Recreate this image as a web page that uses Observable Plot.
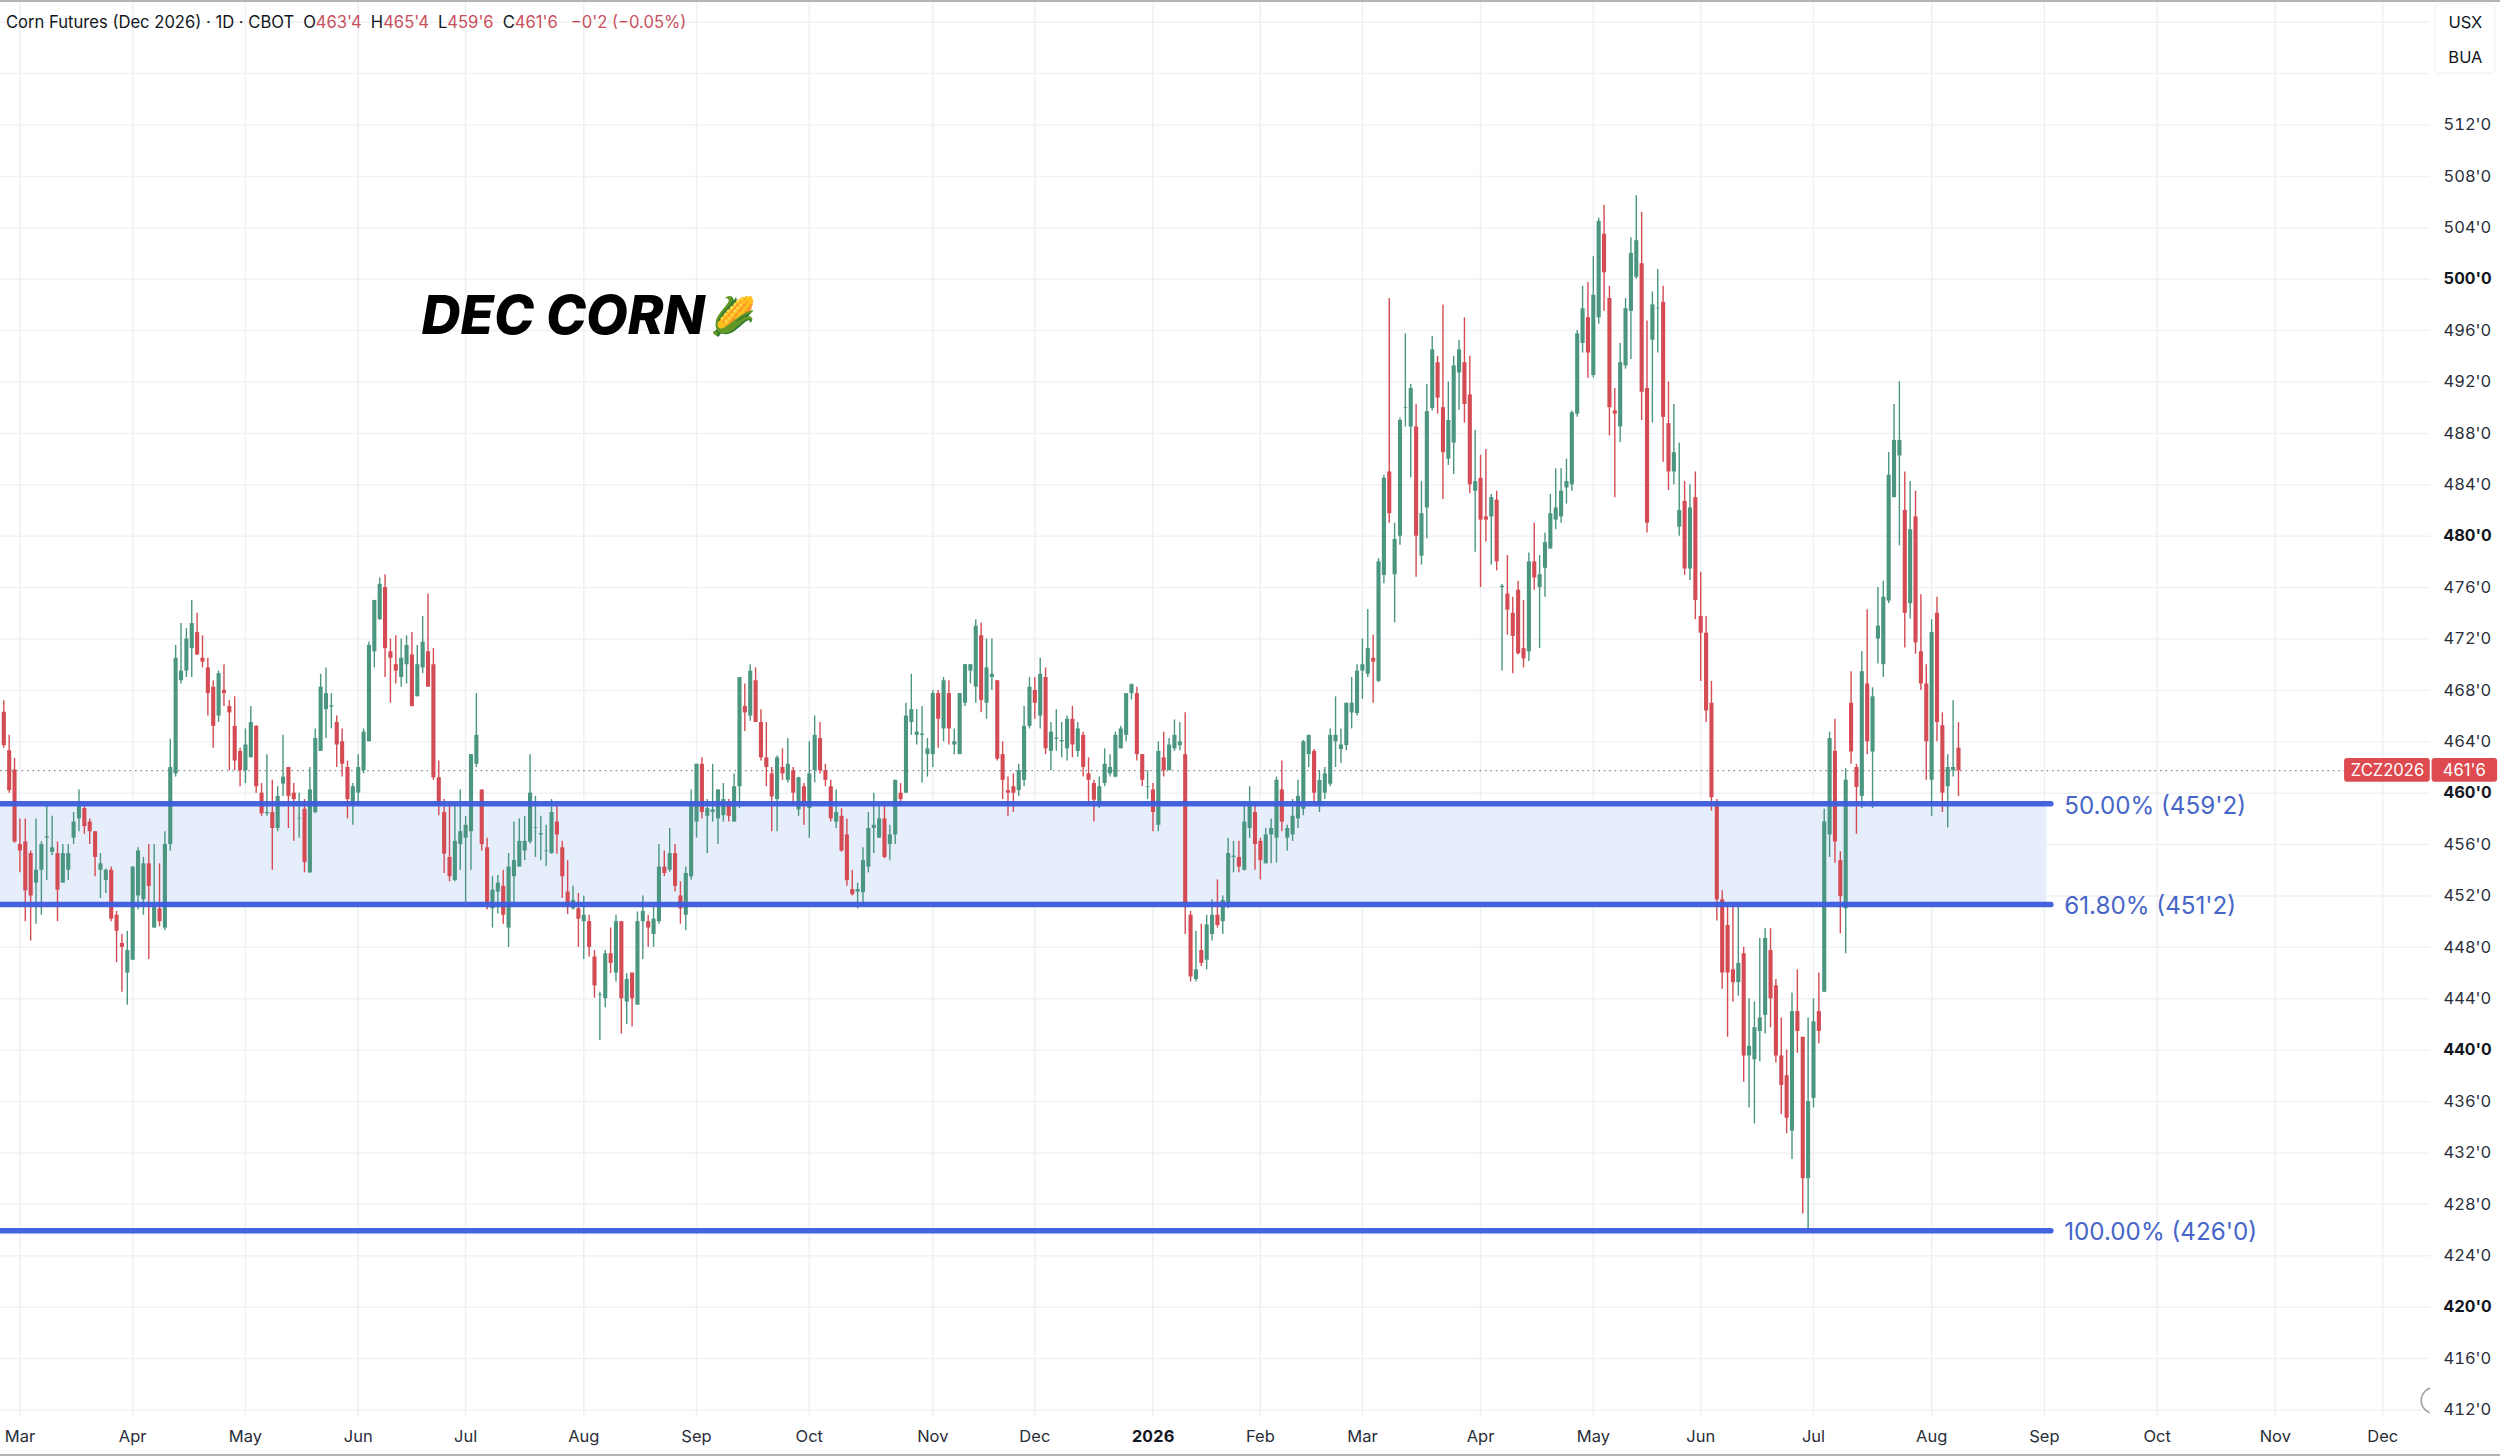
<!DOCTYPE html>
<html>
<head>
<meta charset="utf-8">
<script src="https://cdn.jsdelivr.net/npm/d3@7"></script>
<script src="https://cdn.jsdelivr.net/npm/@observablehq/plot@0.6"></script>
<style>
html,body{margin:0;padding:0;background:#fff;}
#wrap{position:relative;width:2500px;height:1456px;overflow:hidden;font-family:Inter,sans-serif;}
#legend{position:absolute;left:6px;top:12px;font-size:16.6px;line-height:20px;color:#131722;white-space:pre;}
#legend .v{color:#c8505c;}
#legend .k{margin-left:9px;}
#legend .c{margin-left:13px;}
#topline,#botline{position:absolute;left:0;width:2500px;height:2px;background:#b4b4b4;}
#topline{top:0;}#botline{bottom:0;}
</style>
</head>
<body>
<div id="wrap"></div>
<script>
const highs=[467.2,464.5,462.7,458,458,455.5,458,456.2,459,458.2,
456.2,456,456,458.5,460.25,459,458,457,455.3,454.1,
454.25,450.8,449,449.25,454.25,455.75,455,456,456,454.5,
457,464.2,471.5,473.2,472.8,475,474,472.25,470.5,468.75,
469.5,470,467.2,467.5,463.5,465,466.75,465.25,460.75,463,
461,460.5,464.5,462,460.75,460,459.5,462,465,469.25,
469.75,467.75,466,465,462.5,460.75,463,465,471.75,475,
476.75,477,472,472.25,472,472.25,472.5,471.5,473.75,475.5,
471.25,462.5,459.5,459.3,459.2,460.25,458.2,463,467.75,460.25,
456.5,453.5,453.6,454,455.3,457.75,458,458.2,463,459.75,
458.2,457.5,459.5,459,456.25,454.75,452.75,452.2,452,450.5,
447.75,444.5,447.75,449.5,450.5,450,445.95,446,450.75,452,
450.5,451.1,456,455.5,457.25,456,453.1,454.25,460.25,462.25,
462.75,459.5,462.25,460.25,460.75,459.5,461.5,469,468.5,470,
469.75,466.5,465.5,462,462.9,463.45,464.25,462,461.25,460.75,
464,466,465.5,462.25,461,460.25,458.8,458,454,453,
455.75,458.5,460,459.2,459.3,457.5,461,460.75,467,469.25,
466.5,466.75,464.25,468,468,469,468.75,465,467.75,470,
470,473.5,473.25,472,472,468.75,464,461.25,461.5,462.25,
466.75,469,469,470.5,469.75,465.5,466.5,465.5,466,466.75,
465.5,464.75,462.75,461,461.25,463.45,463,464.75,465.2,467.75,
468.5,468.25,463,461.75,460.75,464,464.75,464.25,465.7,465.5,
466.25,450.8,449.25,449.8,450.5,451.7,453.25,452,456.5,456.25,
456.25,459.3,460.5,459.2,456.5,457.25,458,461.25,462.5,457.5,
459.5,461,464.1,464.5,463.4,461.75,462,465,467.5,465,
467,469,470,472,474.3,472.3,478.25,484.75,498.5,481,
489.2,495.75,491.8,490.25,484.25,491.8,495.55,494,498,492,
494,495.25,497,494,488.25,486.3,486.75,483.25,483.5,476.25,
478.5,475.25,476.5,475,478.7,481,478.5,480.25,483.25,485.25,
485.25,486,489.75,496,499.45,499.75,501.75,504.75,505.75,499.45,
491.5,495,498.5,503.2,506.5,505.2,496.75,499,500.75,499.45,
492,490.25,487.25,484.25,484,485,477.2,473.75,468.7,459.5,
452.4,451.45,451.45,451.45,448,444,443.75,448.7,449.45,449.45,
445.5,442.5,440,444.45,446.25,441,442.5,444,446,458.75,
464.75,465.75,455.45,461.9,469.45,462.25,471,474.27,468.2,476,
476.5,486.5,490.25,492,485,484.25,483.5,475.45,470,473.5,
475.25,466.25,463,467.2,465.5];
const lows=[463.5,460,456.1,453.8,450,448.5,449.8,450.5,453.2,455.15,
450,453,453.2,456,457,456.8,456,453.5,451.8,452.2,
450,446.8,444.5,443.5,447,450.9,450.5,447.05,449.5,449.6,
449.3,455.5,461.25,468.5,469,469,470.75,469.75,466,463.5,
465.5,466.75,461.75,461.75,460.5,460.75,462.75,460,458.2,458.2,
454,457,459.75,457.25,456.25,456.5,453.8,453.75,458.4,463.25,
464.25,465,462,461.25,458,457.5,459,461.5,464,469.75,
473.45,469,467,468.5,468.25,468.5,466.7,467.5,469.3,468.25,
461,458.25,453.75,453.1,453.1,454,451.5,454,462,455.5,
450.9,449.5,450.6,449.8,448,451.4,454.25,454.75,456.05,455,
454.75,454.3,455.25,455.25,451.8,450.55,450.9,448,447.05,447.25,
444.05,440.75,443.3,445.95,445.3,441.25,442,441.8,443.5,447.05,
448,448,449.8,453.5,453.85,452.3,449.8,449.3,453.25,456.5,
458,455.3,457.75,456,457.75,457.75,457.75,458.8,464.8,465.6,
465.5,462.5,460.5,457,457,461,460.8,459,458.2,457.5,
456.5,460.8,461.5,460.5,457.75,457.25,455.4,452.75,452,451,
451.25,453.8,455.3,456.5,454.9,454.75,456,459,460,464.5,
463.75,460.8,461.25,462,463.5,464,463.75,463,463,466.75,
468.5,467,466.25,465.75,468,462.5,459.5,458.2,458.5,459.75,
460.5,465,465.75,465,463,461.75,463.25,462.75,462.5,462.75,
462.8,461.25,459,457.75,458.8,460.5,461.25,461.2,463.45,464,
467.25,462.5,460.5,459.5,457,457,461.25,461.75,463.25,463.3,
449,445.3,445.3,446.5,446.25,448.5,449.5,449,451,453.8,
453.8,453.95,456.5,454,453.25,454.5,454.5,454.55,457,455.5,
456.25,457.25,458.25,462,459,458.5,459.5,460.5,462,462.3,
463.3,465,466,467.3,469,467,468.6,476.3,481,473.25,
479.3,488.5,484.55,476.8,477.75,479.8,489.75,489.5,482.85,485.5,
484.8,489.8,488.8,483.3,478.75,476,479.55,477.75,477.3,469.5,
472.3,469.3,470.75,469.75,470.25,475.8,471.25,475.25,479,480.5,
481,482.5,483.5,489.25,494.25,492.3,492.3,496.5,497.5,487.8,
483,487.3,493,493.75,500,489,480.25,488.8,494.25,485.75,
483.55,484,480,476.95,476.55,473.5,468.7,465.5,458.6,450.05,
444.75,441,443.75,444.2,437.5,435.5,434.25,439.1,441.25,441.75,
439,435,433.5,431.5,439.75,427.25,426,435.5,440.5,444.5,
455,454.55,449.05,447.5,462.25,456.8,458.8,463,458.8,470.05,
469,474.75,483,479.25,471.3,473.55,470.8,468,461,458.2,
464,458.5,457.3,461.25,459.75];
const opens=[466.3,463.3,461.8,456,456.2,455.3,453,454,456.5,455.4,
455.3,453,454,456.5,458,458.8,457.75,457,454,453.2,
454,450.5,448.3,446,447,452,451.7,454.5,449.5,451,
449.5,456,461.5,468.75,469.5,471.25,472.5,470.5,469.75,468.25,
466,468,466.75,465.2,463.25,461.75,462.75,465.2,460,458.4,
458.5,457.25,460.7,462,460,458,458.75,453.8,458.5,463.25,
466.5,466.7,465.5,464,462,459,460,461.75,464,471,
473.5,476,471,470,469,470,470.75,467.5,469.75,471,
470,461.2,458.5,455,453.2,456,456.5,457,462.25,460.25,
455.75,451,452.3,452.75,449.5,453.5,454.25,455.5,456.2,457.25,
456.75,455.45,455.3,457.75,455.75,452.3,451,451,450,450,
447.25,444.25,444,447.5,446,450,443.75,446,443.5,450,
450,449,450,454.25,454,455.3,452,450.5,453.5,457.75,
462.25,458.2,458.5,458,458.25,459.3,457.75,460.5,466.75,466,
468.75,465.5,462.75,461.5,459.5,462,461,461.75,458.7,460.5,
458.8,461.75,464.25,461.75,460.5,457.75,458.2,456.75,452.5,452.3,
452.25,454.25,457.25,456.5,458,456,456.75,460,460,465.5,
464.5,464.5,463,463,467.75,465,467.75,463.75,463,467,
469.5,468.25,472.25,467,469,468.75,463,460.2,460.5,460.2,
461,465.2,468,466,469,463.25,464.2,464,463.45,465.75,
463.25,464.5,461.5,460.75,459.2,460.75,461.5,461.25,463.45,464.5,
467.75,467.75,463,460.45,460.25,457.5,462.75,461.75,463.45,463.7,
463,450.5,445.5,447.75,447,449,450.5,450,451.4,455,
455,454,457.25,458.5,456.25,454.5,456.75,456.5,460.25,456.5,
456.75,458,458.75,463,463.25,459,460,460.7,464,463.4,
463.7,466.25,466.2,469.5,469.25,470.5,468.7,476.95,485,477,
480,489.95,488.5,488.5,478.45,482.2,489.95,493.5,490,486,
487.25,492.7,493.5,491,483.5,484.5,481.5,481.5,482.8,476,
475.5,474,475.8,471.25,471,478,476,477.5,479,481.25,
481.5,483.75,484,489.5,495,497,492.5,497,503.5,498.5,
489.75,488.5,493.25,497.5,500.15,501.2,491.5,495.25,497.7,498.2,
488.75,485,480.7,482.7,477.45,483,473.75,472.45,467,459.2,
451.7,449.7,446.25,445.25,447.5,439.55,439.25,441.45,442.7,447.75,
445,439.55,438,433.7,443,441,430,436.25,443,444.5,
456.75,463.25,454.75,451,467,462,459.75,468.5,463.2,472,
470,474.95,483,486.25,482,474.75,481.5,471,468.5,461,
474,465.25,460.5,461.75,463.5];
const closes=[463.7,460.2,456.2,455.5,452.4,452,454,456,456.6,455.75,
452.45,455.3,455.3,457.75,459,457.4,457,455,454.5,454,
450.2,449.25,448,447.75,454.25,455.5,454.5,452.75,451.1,450,
456,462,470.5,469.5,472,473.2,470.75,470.2,467.75,465.2,
469.3,467.75,466.25,462.5,461.75,463.75,465.5,460.5,458.4,458.5,
457.25,459.75,461.25,459.75,459.5,458.05,454.6,460.25,464.25,468.25,
467.75,466.8,463.75,462.25,459.5,460.5,462,464.75,471.5,475,
476.25,471.25,470.5,469.5,470.5,471.5,466.75,470,471.75,468.25,
461.2,459,455.25,453.5,456.25,457,457.5,463,464.5,456,
451.35,452.45,453,450.5,454.25,454.75,456.25,456.25,460,457.3,
456.85,455.5,458.5,456.75,453.5,451.1,451.65,450.2,450.5,448,
445,444.3,447.5,446.75,450,444,445.5,444,450,450.8,
449.5,450.2,454.25,453.75,455.3,452.75,451,453.75,459.3,462.25,
458.5,458.8,458.7,460.25,459.5,458.2,460.5,469,466.25,469.5,
465.5,462.75,462,459.7,462.75,461.5,462.25,460,461.2,459,
461.5,464.5,461.75,461,458,458.5,455.5,453.2,452.1,452.5,
454.75,457.25,457.5,458,455,456.75,461,459.5,466,466.5,
464.75,464.6,463.45,467.75,465.75,468.75,465,464,467.75,470,
470,473,467.2,469.75,469.25,462.65,461,460,460,461.75,
465.2,468.25,467,469.25,463.45,464.75,464.3,464.1,465.75,463.75,
465,462,461,459.45,460.5,462.25,462,464.5,465,467.75,
468.45,463,461,460.5,458.5,463.25,461.75,463.75,464.5,464,
451.4,445.7,446.25,446.75,449.75,450.5,449.7,451.65,455.3,455.1,
454.25,457.75,459.2,456,454.75,456.75,457.25,461,457.75,457.25,
458.2,459.75,464,464.5,460,461,461.5,464.5,464.5,463.75,
467,467,469.5,470,471.25,470.2,478,484.5,481.75,479.75,
489,490,491.5,480,481.75,489.7,494.5,490.75,486.5,489,
493.25,494.5,490.25,484,484.25,481.25,481.25,483,478,476.1,
474.25,472.2,470.85,470.45,478,476.75,477,479.5,481.75,482.2,
483.5,484.25,489.6,495.75,497.7,494.25,498.75,504.5,500.5,490,
489.5,493.5,497.7,502,503,491.2,481,498,497.75,489.25,
485,486.5,482,477.45,482.2,475,472.45,466.4,459.65,451.7,
446,446,445.25,446.75,439.55,440.3,441.75,442.5,448.7,444,
439.55,437.25,434.7,443,441.45,430,436,442.2,441.45,457.75,
464.25,456.2,451.95,461,463.2,460.45,469.45,464,467.5,473,
475.25,484.75,487.45,487.45,474,480.5,471.7,468.5,464,472.5,
465.5,460,462,462,461.75];

const monthIndex=[3,24,45,66,86,108,129,150,173,192,214,234,253,275,296,316,337,359,380,401,423,443];
const monthLabels=["Mar","Apr","May","Jun","Jul","Aug","Sep","Oct","Nov","Dec","2026","Feb","Mar","Apr","May","Jun","Jul","Aug","Sep","Oct","Nov","Dec"];
const gridPrices=[412,416,420,424,428,432,436,440,444,448,452,456,460,464,468,472,476,480,484,488,492,496,500,504,508,512,516,520];
const regularTicks=[412,416,424,428,432,436,444,448,452,456,464,468,472,476,484,488,492,496,504,508,512];
const boldTicks=[420,440,460,480,500];
const fibLevels=[459.17,451.33,425.95];
const fibLabels=["50.00% (459'2)","61.80% (451'2)","100.00% (426'0)"];
const lastPrice=461.75;
const symbolText="ZCZ2026";
const lastText="461'6";
const unitLabels=["USX","BUA"];
const titleText="Corn Futures (Dec 2026) · 1D · CBOT";
const legendKeys=["O","H","L","C"];
const legendValues=["463'4","465'4","459'6","461'6"];
const legendChange="−0'2 (−0.05%)";
const badgeText="DEC CORN";
const badgeEmoji="🌽";

const GREEN="#4a9680",RED="#d44b53",BLUE="#3c5bdc";
const xMin=-0.6145,xMax=451.9,bandEnd=380.5,lineEnd=381.3,fibTextX=383.7;
const idx=d3.range(highs.length);
const up=idx.filter(i=>closes[i]>=opens[i]);
const down=idx.filter(i=>closes[i]<opens[i]);
const candle=(set,color)=>[
  Plot.ruleX(set,{x:i=>i,y1:i=>lows[i],y2:i=>highs[i],stroke:color,strokeWidth:1.4}),
  Plot.ruleX(set,{x:i=>i,y1:i=>Math.min(opens[i],closes[i]),y2:i=>Math.max(opens[i],closes[i]),stroke:color,strokeWidth:4.1})
];
const tick=v=>`${v}'0`;

const chart=Plot.plot({
  width:2500,height:1456,marginTop:0,marginLeft:0,marginRight:70,marginBottom:40,
  style:{fontFamily:"Inter,sans-serif",background:"#fff",overflow:"visible"},
  x:{type:"linear",domain:[xMin,xMax]},
  y:{type:"linear",domain:[411.49,521.69]},
  marks:[
    Plot.ruleY(gridPrices,{stroke:"#f1f2f4",strokeWidth:1.5}),
    Plot.ruleX(monthIndex,{stroke:"#eef0f3",strokeWidth:1.5}),
    Plot.rect([0],{x1:xMin,x2:bandEnd,y1:fibLevels[1],y2:fibLevels[0],fill:"#e6edfb"}),
    Plot.ruleY([lastPrice],{x1:xMin,x2:435.9,stroke:"#8c8c8c",strokeWidth:1.3,strokeDasharray:"1.6,3.8"}),
    ...candle(up,GREEN),
    ...candle(down,RED),
    Plot.ruleY(fibLevels,{x1:xMin,x2:lineEnd,stroke:BLUE,strokeWidth:5.5,strokeLinecap:"round",strokeOpacity:0.95}),
    Plot.text(fibLabels,{x:fibTextX,y:(d,i)=>fibLevels[i],text:d=>d,textAnchor:"start",dy:2,fill:"#4666c8",fontSize:24.2}),
    Plot.text([badgeText],{x:77.8,y:497.05,text:d=>d,textAnchor:"start",fontSize:54,fontWeight:800,fontStyle:"italic",fill:"#000"}),
    Plot.text([badgeEmoji],{x:135.8,y:497.05,text:d=>d,fontSize:37}),
    Plot.axisY(regularTicks,{anchor:"right",tickSize:0,tickPadding:13,tickFormat:tick,label:null,fontSize:16.5,fill:"#2a2e39"}),
    Plot.axisY(boldTicks,{anchor:"right",tickSize:0,tickPadding:13,tickFormat:tick,label:null,fontSize:16.5,fontWeight:700,fill:"#131722"}),
    Plot.axisX(monthIndex.filter((d,i)=>monthLabels[i]!=="2026"),{anchor:"bottom",tickSize:0,tickPadding:14,label:null,fontSize:16.5,fill:"#2a2e39",tickFormat:d=>monthLabels[monthIndex.indexOf(d)]}),
    Plot.axisX(monthIndex.filter((d,i)=>monthLabels[i]==="2026"),{anchor:"bottom",tickSize:0,tickPadding:14,label:null,fontSize:16.5,fontWeight:700,fill:"#131722",tickFormat:d=>monthLabels[monthIndex.indexOf(d)]}),
    Plot.rect([0],{x1:435.9,x2:451.85,y1:460.86,y2:462.7,fill:"#dd4a50",r:3}),
    Plot.rect([0],{x1:452.2,x2:464.4,y1:460.86,y2:462.7,fill:"#dd4a50",r:3}),
    Plot.text([symbolText],{x:443.9,y:lastPrice,text:d=>d,fill:"#fff",fontSize:16.6}),
    Plot.text([lastText],{x:458.2,y:lastPrice,text:d=>d,fill:"#fff",fontSize:16.6}),
    Plot.rect([0],{x1:452.8,x2:464,y1:516,y2:521.4,fill:"#fff",stroke:"#f5f5f6",strokeWidth:1.5,r:5}),
    Plot.text(unitLabels,{x:458.4,y:(d,i)=>i===0?519.98:517.25,text:d=>d,fill:"#131722",fontSize:16.5}),
    Plot.dot([0],{x:452.6,y:412.74,r:13,stroke:"#9aa0a8",strokeWidth:1.6,fill:"none",clip:"frame"})
  ]
});
const wrap=document.getElementById("wrap");
wrap.appendChild(chart);
const legend=document.createElement("div");
legend.id="legend";
const parts=[`<span>${titleText}</span>`];
legendKeys.forEach((k,i)=>parts.push(`<span class="k">${k}</span><span class="v">${legendValues[i]}</span>`));
parts.push(`<span class="c v">${legendChange}</span>`);
legend.innerHTML=parts.join("");
wrap.appendChild(legend);
for(const id of ["topline","botline"]){const d=document.createElement("div");d.id=id;wrap.appendChild(d);}
</script>
</body>
</html>
